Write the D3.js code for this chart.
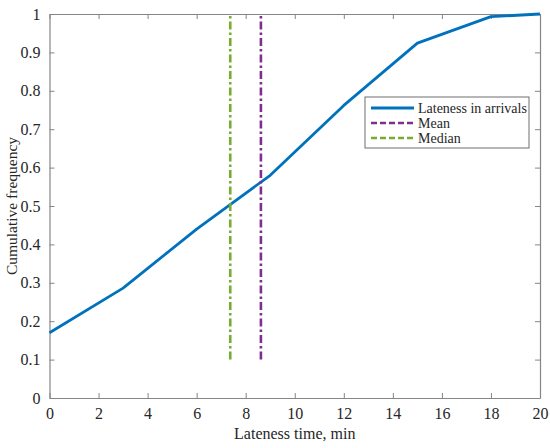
<!DOCTYPE html>
<html>
<head>
<meta charset="utf-8">
<script src="https://cdn.jsdelivr.net/npm/d3@7"></script>
<style>
  body { margin: 0; background: #fff; }
</style>
</head>
<body>
<div id="chart"></div>
<script>
// Data
const lateness = [0, 3, 6, 9, 12, 15, 18, 20];
const cumFreq = [0.17, 0.286, 0.44, 0.58, 0.762, 0.924, 0.993, 1.0];
const meanValue = 8.62;
const medianValue = 7.37;
const refLineRange = [0.1, 1];
const xTicks = [0, 2, 4, 6, 8, 10, 12, 14, 16, 18, 20];
const yTicks = [0, 0.1, 0.2, 0.3, 0.4, 0.5, 0.6, 0.7, 0.8, 0.9, 1];
const legendLabels = ["Lateness in arrivals", "Mean", "Median"];

const W = 550, H = 448;
const margin = {top: 14, right: 10, bottom: 50, left: 49.5};
const width = W - margin.left - margin.right,
      height = H - margin.top - margin.bottom;

const FONT = '"Liberation Serif", "Times New Roman", serif';

const svg = d3.select("#chart").append("svg")
    .attr("width", W)
    .attr("height", H);
const g = svg.append("g")
    .attr("transform", `translate(${margin.left},${margin.top})`);

const x = d3.scaleLinear().domain([0, 20]).range([0, width]);
const y = d3.scaleLinear().domain([0, 1]).range([height, 0]);

const axisColor = "#858585";
const textColor = "#262626";

// Axes (ticks point inward, box on all four sides)
const fmt = d => d === 0 || d === 1 ? String(d) : d3.format(".1f")(d);
const styleAxis = sel => {
    sel.select(".domain").attr("stroke", axisColor).attr("stroke-width", 1.2);
    sel.selectAll(".tick line").attr("stroke", axisColor);
    sel.selectAll(".tick text")
        .attr("fill", textColor)
        .style("font-family", FONT)
        .style("font-size", "16px");
};

g.append("g")
    .attr("transform", `translate(0,${height})`)
    .call(d3.axisBottom(x).tickValues(xTicks).tickSizeInner(-5).tickSizeOuter(0).tickPadding(10))
    .call(styleAxis);
g.append("g")
    .call(d3.axisTop(x).tickValues(xTicks).tickSizeInner(-5).tickSizeOuter(0).tickFormat(""))
    .call(styleAxis);
g.append("g")
    .call(d3.axisLeft(y).tickValues(yTicks).tickFormat(fmt).tickSizeInner(-5).tickSizeOuter(0).tickPadding(9))
    .call(styleAxis);
g.append("g")
    .attr("transform", `translate(${width},0)`)
    .call(d3.axisRight(y).tickValues(yTicks).tickSizeInner(-5).tickSizeOuter(0).tickFormat(""))
    .call(styleAxis);

// Cumulative frequency curve
const pts = lateness.map((v, i) => [v, cumFreq[i]]);
g.append("path")
    .datum(pts)
    .attr("fill", "none")
    .attr("stroke", "#0072BD")
    .attr("stroke-width", 2.8)
    .attr("stroke-linejoin", "round")
    .attr("d", d3.line().x(d => x(d[0])).y(d => y(d[1])));

// Mean and median lines
const refLines = [
    {value: meanValue, color: "#7E2F8E"},
    {value: medianValue, color: "#77AC30"}
];
g.selectAll(".ref")
    .data(refLines)
    .enter().append("line")
    .attr("class", "ref")
    .attr("x1", d => x(d.value))
    .attr("x2", d => x(d.value))
    .attr("y1", y(refLineRange[0]))
    .attr("y2", y(refLineRange[1]))
    .attr("stroke", d => d.color)
    .attr("stroke-width", 2.6)
    .attr("stroke-dasharray", "8,3,2.5,3");

// Axis labels
svg.append("text")
    .attr("x", margin.left + width / 2)
    .attr("y", 439)
    .attr("text-anchor", "middle")
    .attr("fill", textColor)
    .style("font-family", FONT)
    .style("font-size", "16px")
    .text("Lateness time, min");
svg.append("text")
    .attr("transform", `translate(17,${margin.top + height / 2}) rotate(-90)`)
    .attr("text-anchor", "middle")
    .attr("fill", textColor)
    .style("font-family", FONT)
    .style("font-size", "15.5px")
    .text("Cumulative frequency");

// Legend
const legend = svg.append("g").attr("transform", "translate(365,97)");
legend.append("rect")
    .attr("width", 164)
    .attr("height", 51)
    .attr("fill", "#fff")
    .attr("stroke", "#6f6f6f")
    .attr("stroke-width", 1);
const legendStyles = [
    {color: "#0072BD", dash: null, width: 2.8},
    {color: "#7E2F8E", dash: "6,3", width: 2.4},
    {color: "#77AC30", dash: "6,3", width: 2.4}
];
const rows = legend.selectAll(".row")
    .data(legendLabels)
    .enter().append("g")
    .attr("transform", (d, i) => `translate(0,${11 + i * 15})`);
rows.append("line")
    .attr("x1", 6).attr("x2", 49)
    .attr("stroke", (d, i) => legendStyles[i].color)
    .attr("stroke-width", (d, i) => legendStyles[i].width)
    .attr("stroke-dasharray", (d, i) => legendStyles[i].dash);
rows.append("text")
    .attr("x", 53)
    .attr("y", 5)
    .attr("fill", textColor)
    .style("font-family", FONT)
    .style("font-size", "14px")
    .text(d => d);
</script>
</body>
</html>
